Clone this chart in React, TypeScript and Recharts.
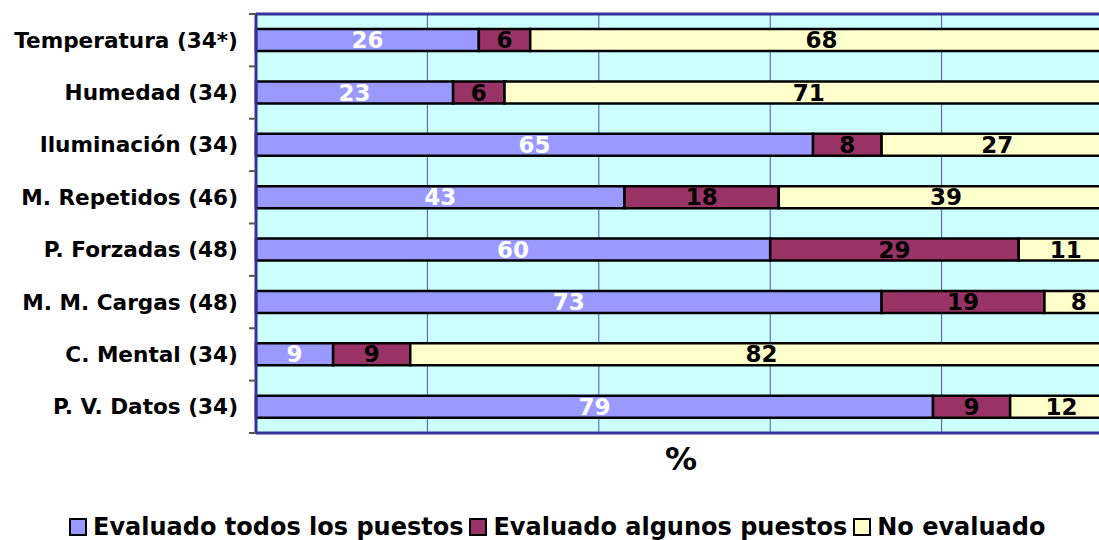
import React from 'react'
import { BarChart, Bar, XAxis, YAxis, CartesianGrid, LabelList } from 'recharts'

const categories = [
  'Temperatura (34*)',
  'Humedad (34)',
  'Iluminación (34)',
  'M. Repetidos (46)',
  'P. Forzadas (48)',
  'M. M. Cargas (48)',
  'C. Mental (34)',
  'P. V. Datos (34)',
]
const todos = [26, 23, 65, 43, 60, 73, 9, 79]
const algunos = [6, 6, 8, 18, 29, 19, 9, 9]
const noEvaluado = [68, 71, 27, 39, 11, 8, 82, 12]

const xTicks = [0, 20, 40, 60, 80, 100]

const seriesNames = ['Evaluado todos los puestos', 'Evaluado algunos puestos', 'No evaluado']
const seriesColors = ['#9999FF', '#993366', '#FFFFCC']

const FONT = '"DejaVu Sans", Verdana, sans-serif'

const data = categories.map((name, i) => ({
  name,
  todos: todos[i],
  algunos: algunos[i],
  noEvaluado: noEvaluado[i],
}))

const labelStyle = (fill: string) => ({
  fill,
  fontFamily: FONT,
  fontWeight: 700,
  fontSize: 23,
})

// empty tick so the grid points are kept but no text drawn
const NoText = () => <g />

const TICK_GAP = 18 // tickSize + tickMargin of the category axis

// category label plus Excel-style tick marks on the band edges
function CategoryTick(props: any) {
  const { x, y, payload, index, visibleTicksCount } = props
  const half = payload?.offset ?? 26
  const ax = x + TICK_GAP
  return (
    <g>
      <line x1={ax - 7} x2={ax} y1={y - half} y2={y - half} stroke="#555" strokeWidth={2} />
      {index === visibleTicksCount - 1 && (
        <line x1={ax - 7} x2={ax} y1={y + half} y2={y + half} stroke="#555" strokeWidth={2} />
      )}
      <text
        x={x}
        y={y}
        textAnchor="end"
        dominantBaseline="central"
        fill="#000"
        fontFamily={FONT}
        fontWeight={700}
        fontSize={21.6}
      >
        {payload.value}
      </text>
    </g>
  )
}

function LegendBox() {
  return (
    <div
      style={{
        position: 'absolute',
        left: 69,
        top: 513,
        display: 'flex',
        alignItems: 'center',
        fontFamily: FONT,
        fontWeight: 700,
        fontSize: 24,
        color: '#000',
        whiteSpace: 'nowrap',
      }}
    >
      {seriesNames.map((n, i) => (
        <span key={n} style={{ display: 'flex', alignItems: 'center', marginRight: 6 }}>
          <span
            style={{
              display: 'inline-block',
              width: 14,
              height: 14,
              background: seriesColors[i],
              border: '2px solid #000',
              marginRight: 6,
            }}
          />
          {n}
        </span>
      ))}
    </div>
  )
}

export default function App() {
  return (
    <div
      style={{
        position: 'fixed',
        left: 0,
        top: 0,
        width: 1099,
        height: 540,
        overflow: 'hidden',
        background: '#fff',
      }}
    >
      <BarChart
        width={1120}
        height={540}
        data={data}
        layout="vertical"
        margin={{ top: 13, right: 7, bottom: 106, left: 0 }}
        barSize={22}
      >
        <CartesianGrid
          horizontal={false}
          vertical
          fill="#CCFFFF"
          fillOpacity={1}
          stroke="#5050C0"
          strokeWidth={1}
        />
        <XAxis
          type="number"
          domain={[0, 100]}
          ticks={xTicks}
          tick={NoText}
          tickLine={false}
          height={1}
          axisLine={{ stroke: '#333399', strokeWidth: 3 }}
        />
        <XAxis
          xAxisId="top"
          orientation="top"
          type="number"
          domain={[0, 100]}
          ticks={xTicks}
          tick={NoText}
          tickLine={false}
          height={1}
          axisLine={{ stroke: '#333399', strokeWidth: 3 }}
        />
        <YAxis
          type="category"
          dataKey="name"
          width={256}
          axisLine={{ stroke: '#333399', strokeWidth: 3 }}
          tickLine={false}
          tickSize={16}
          tickMargin={2}
          tick={CategoryTick}
        />
        <Bar dataKey="todos" stackId="a" fill={seriesColors[0]} stroke="#000" strokeWidth={2.5} isAnimationActive={false}>
          <LabelList dataKey="todos" position="center" style={labelStyle('#fff')} />
        </Bar>
        <Bar dataKey="algunos" stackId="a" fill={seriesColors[1]} stroke="#000" strokeWidth={2.5} isAnimationActive={false}>
          <LabelList dataKey="algunos" position="center" style={labelStyle('#000')} />
        </Bar>
        <Bar dataKey="noEvaluado" stackId="a" fill={seriesColors[2]} stroke="#000" strokeWidth={2.5} isAnimationActive={false}>
          <LabelList dataKey="noEvaluado" position="center" style={labelStyle('#000')} />
        </Bar>
      </BarChart>
      <div
        style={{
          position: 'absolute',
          left: 665,
          top: 440,
          fontFamily: FONT,
          fontWeight: 700,
          fontSize: 32,
          color: '#000',
        }}
      >
        %
      </div>
      <LegendBox />
    </div>
  )
}
